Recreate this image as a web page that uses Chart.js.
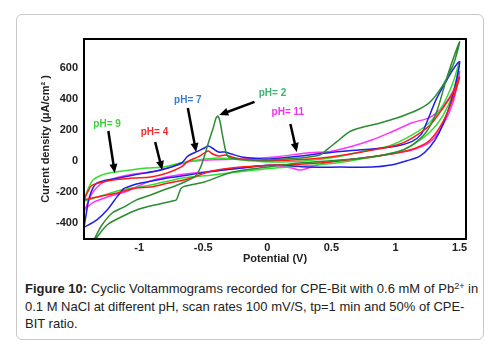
<!DOCTYPE html>
<html>
<head>
<meta charset="utf-8">
<script src="https://cdn.jsdelivr.net/npm/chart.js@4.4.1/dist/chart.umd.min.js"></script>
<style>
  body { margin: 0; background: #fff; width: 499px; height: 349px; position: relative; overflow: hidden; font-family: 'Liberation Sans', Arial, sans-serif; }
  #frame { position: absolute; left: 16px; top: 14px; width: 468px; height: 326px; box-sizing: border-box; border: 1px solid #c8c8c8; border-radius: 6px; }
  #chart { position: absolute; left: 0; top: 0; }
  #caption { position: absolute; left: 25px; top: 280px; font-size: 13px; line-height: 17.5px; color: #222; white-space: nowrap; }
  #caption sup { font-size: 9px; line-height: 0; vertical-align: 4px; }
</style>
</head>
<body>
<div id="frame"></div>
<canvas id="chart" width="499" height="270"></canvas>
<div id="caption"><b>Figure 10:</b> Cyclic Voltammograms recorded for CPE-Bit with 0.6 mM of Pb<sup>2+</sup> in<br>0.1 M NaCl at different pH, scan rates 100 mV/S, tp=1 min and 50% of CPE-<br>BIT ratio.</div>
<script>
// potential (V) and current density (uA/cm2), forward scan then return scan
const pH2V = [-1.35,-1.29,-1.21,-1.12,-1.02,-0.91,-0.81,-0.72,-0.63,-0.56,-0.52,-0.50,-0.46,-0.42,-0.40,-0.385,-0.37,-0.35,-0.33,-0.31,-0.25,0,0.25,0.41,0.47,0.54,0.64,0.72,0.88,1.01,1.17,1.27,1.37,1.45,1.5,
              1.40,1.32,1.24,1.13,1.01,0.75,0.49,0.25,0,-0.27,-0.49,-0.60,-0.67,-0.71,-0.74,-0.88,-1.02,-1.14,-1.25,-1.34];
const pH2I = [-505,-415,-337,-299,-253,-221,-189,-163,-131,-99,-41,5,114,217,275,288,256,166,82,30,11,5,17,37,75,121,186,211,243,275,327,379,488,617,766,
              534,314,185,101,56,17,0,-15,-41,-73,-137,-157,-176,-253,-260,-286,-318,-363,-415,-505];

const pH4V = [-1.43,-1.40,-1.37,-1.30,-1.20,-1.04,-0.91,-0.78,-0.67,-0.62,-0.54,-0.49,-0.46,-0.43,-0.38,-0.33,-0.28,-0.20,-0.12,0.02,0.31,0.49,0.74,1.01,1.13,1.27,1.37,1.45,1.5,
              1.45,1.37,1.27,1.16,1.01,0.74,0.49,0.31,0.02,-0.21,-0.45,-0.57,-0.65,-0.77,-0.91,-1.02,-1.09,-1.17,-1.33,-1.43];
const pH4I = [-255,-200,-160,-140,-124,-112,-105,-79,-40,-5,25,50,63,45,30,37,25,10,5,0,10,24,56,101,146,230,340,443,540,
              404,250,133,82,50,17,-8,-20,-30,-41,-70,-105,-124,-144,-170,-176,-189,-208,-234,-253];

const pH7V = [-1.43,-1.41,-1.39,-1.36,-1.33,-1.27,-1.20,-1.04,-0.83,-0.67,-0.62,-0.54,-0.49,-0.46,-0.43,-0.38,-0.33,-0.28,-0.20,-0.12,0.02,0.31,0.57,0.82,1.01,1.13,1.20,1.24,1.32,1.40,1.45,1.5,
              1.45,1.40,1.34,1.27,1.19,1.09,0.95,0.82,0.57,0.31,0.06,-0.20,-0.46,-0.72,-0.78,-1.02,-1.09,-1.12,-1.17,-1.25,-1.33,-1.43];
const pH7I = [-430,-330,-240,-175,-145,-128,-118,-92,-60,-15,30,62,82,95,82,56,56,43,24,17,11,35,60,75,95,125,170,240,400,520,590,637,
              430,300,180,90,30,0,-30,-41,-41,-41,-28,-47,-73,-105,-112,-150,-170,-180,-230,-318,-382,-430];

const pH9V = [-1.43,-1.40,-1.36,-1.30,-1.20,-1.07,-0.94,-0.81,-0.68,-0.54,-0.38,-0.13,0.02,0.28,0.54,0.74,0.95,1.13,1.27,1.37,1.45,1.5,
              1.45,1.37,1.27,1.13,1.01,0.74,0.54,0.28,0.02,-0.20,-0.46,-0.65,-0.91,-1.14,-1.27,-1.43];
const pH9I = [-255,-185,-125,-95,-75,-60,-47,-41,-15,5,17,0,-8,-2,24,60,95,166,250,359,508,640,
              440,290,185,101,56,12,-15,-34,-50,-70,-95,-110,-157,-189,-221,-262];

const pH11V = [-1.43,-1.41,-1.38,-1.35,-1.30,-1.27,-1.17,-1.04,-0.91,-0.78,-0.67,-0.60,-0.46,-0.20,0.06,0.31,0.49,0.64,0.82,0.98,1.13,1.27,1.37,1.45,1.5,
               1.45,1.37,1.27,1.13,1.01,0.74,0.49,0.36,0.31,0.25,0.18,0.02,-0.20,-0.46,-0.72,-0.91,-1.09,-1.25,-1.35,-1.43];
const pH11I = [-330,-290,-230,-190,-150,-135,-108,-85,-73,-47,-20,-5,5,11,24,50,60,88,135,190,245,280,350,450,575,
               379,230,121,69,50,17,-8,-35,-50,-60,-45,-30,-47,-70,-95,-130,-195,-234,-266,-315];

const xTicks = [-1, -0.5, 0, 0.5, 1, 1.5];
const yTicks = [-400, -200, 0, 200, 400, 600];

// pH labels with arrows, in data units
const notes = [
  { text: 'pH= 9',  color: '#3ccf3c', tx: -1.25,  ty: 237, fx: -1.24,  fy: 192, ex: -1.19,  ey: -79 },
  { text: 'pH= 4',  color: '#ee3030', tx: -0.88,  ty: 185, fx: -0.875, fy: 121, ex: -0.82,  ey: -60 },
  { text: 'pH= 7',  color: '#3a7bd5', tx: -0.62,  ty: 392, fx: -0.62,  fy: 340, ex: -0.555, ey: 56 },
  { text: 'pH= 2',  color: '#3cb371', tx: 0.04,   ty: 437, fx: -0.10,  fy: 379, ex: -0.375, ey: 295 },
  { text: 'pH= 11', color: '#ee33ee', tx: 0.16,   ty: 314, fx: 0.18,   fy: 237, ex: 0.23,   ey: 56 }
];

function toPoints(xs, ys) {
  return xs.map((x, i) => ({ x: x, y: ys[i] }));
}

function series(label, xs, ys, color) {
  return {
    label: label,
    data: toPoints(xs, ys),
    showLine: true,
    borderColor: color,
    borderWidth: 1.5,
    pointRadius: 0,
    tension: 0.3,
    fill: false
  };
}

const tickFont = { family: 'Liberation Sans', size: 11, weight: 'bold' };

const framePlugin = {
  id: 'frame',
  afterDatasetsDraw(chart) {
    const a = chart.chartArea;
    const ctx = chart.ctx;
    ctx.save();
    ctx.strokeStyle = '#000';
    ctx.lineWidth = 2;
    ctx.strokeRect(a.left, a.top, a.right - a.left, a.bottom - a.top);
    ctx.restore();
  }
};

const notesPlugin = {
  id: 'notes',
  afterDatasetsDraw(chart) {
    const ctx = chart.ctx;
    const xs = chart.scales.x, ys = chart.scales.y;
    ctx.save();
    notes.forEach(n => {
      const x0 = xs.getPixelForValue(n.fx), y0 = ys.getPixelForValue(n.fy);
      const x1 = xs.getPixelForValue(n.ex), y1 = ys.getPixelForValue(n.ey);
      const ang = Math.atan2(y1 - y0, x1 - x0);
      const head = 9;
      ctx.strokeStyle = '#000';
      ctx.fillStyle = '#000';
      ctx.lineWidth = 2.5;
      ctx.beginPath();
      ctx.moveTo(x0, y0);
      ctx.lineTo(x1 - Math.cos(ang) * head * 0.8, y1 - Math.sin(ang) * head * 0.8);
      ctx.stroke();
      ctx.beginPath();
      ctx.moveTo(x1, y1);
      ctx.lineTo(x1 - head * Math.cos(ang) + 4 * Math.sin(ang), y1 - head * Math.sin(ang) - 4 * Math.cos(ang));
      ctx.lineTo(x1 - head * Math.cos(ang) - 4 * Math.sin(ang), y1 - head * Math.sin(ang) + 4 * Math.cos(ang));
      ctx.closePath();
      ctx.fill();

      ctx.font = 'bold 10px "Liberation Sans", Arial, sans-serif';
      ctx.fillStyle = n.color;
      ctx.textAlign = 'center';
      ctx.textBaseline = 'middle';
      ctx.fillText(n.text, xs.getPixelForValue(n.tx), ys.getPixelForValue(n.ty));
    });
    ctx.restore();
  }
};

new Chart(document.getElementById('chart'), {
  type: 'scatter',
  data: {
    datasets: [
      series('pH= 2', pH2V, pH2I, '#2b8c33'),
      series('pH= 4', pH4V, pH4I, '#ff1a1a'),
      series('pH= 7', pH7V, pH7I, '#1f1fe8'),
      series('pH= 9', pH9V, pH9I, '#33dd33'),
      series('pH= 11', pH11V, pH11I, '#ff33ff')
    ]
  },
  options: {
    responsive: false,
    animation: false,
    devicePixelRatio: 1,
    layout: { padding: { left: 35, right: 33, top: 39, bottom: 0 } },
    plugins: {
      legend: { display: false },
      tooltip: { enabled: false }
    },
    scales: {
      x: {
        type: 'linear',
        min: -1.43,
        max: 1.55,
        afterFit: s => { s.height = 31; },
        afterBuildTicks: s => { s.ticks = xTicks.map(v => ({ value: v })); },
        grid: { display: false, drawTicks: false },
        border: { display: false },
        ticks: { font: tickFont, color: '#222', padding: 2, maxRotation: 0, callback: v => String(v) },
        title: { display: true, text: 'Potential (V)', font: tickFont, color: '#222' }
      },
      y: {
        type: 'linear',
        min: -505,
        max: 785,
        afterFit: s => { s.width = 49; },
        afterBuildTicks: s => { s.ticks = yTicks.map(v => ({ value: v })); },
        grid: { display: false, drawTicks: false },
        border: { display: false },
        ticks: { font: tickFont, color: '#222', padding: 6, callback: v => String(v) },
        title: { display: true, text: 'Curent density (\u03bcA/cm\u00b2 )', font: tickFont, color: '#222' }
      }
    }
  },
  plugins: [framePlugin, notesPlugin]
});
</script>
</body>
</html>
